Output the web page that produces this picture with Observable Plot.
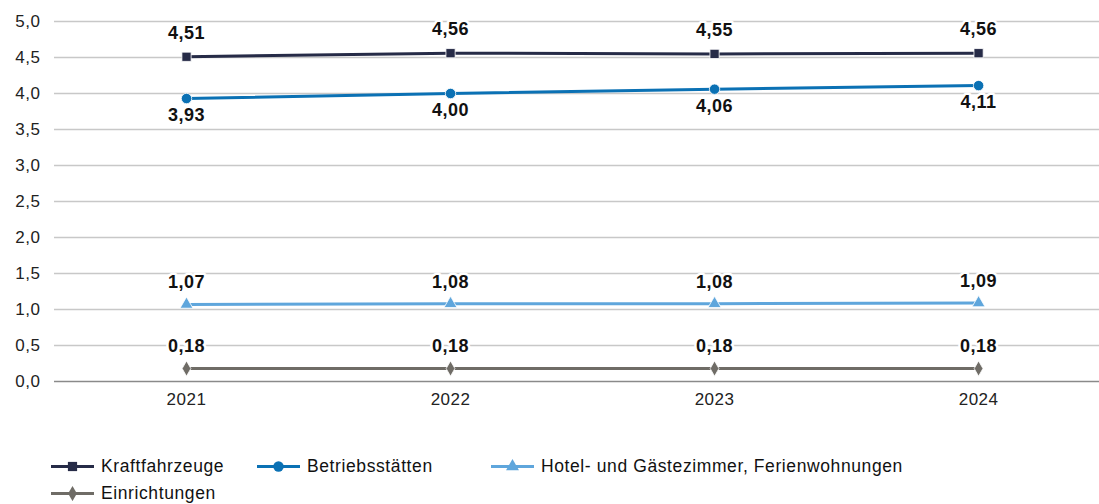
<!DOCTYPE html>
<html><head><meta charset="utf-8">
<script src="https://cdn.jsdelivr.net/npm/d3@7"></script>
<script src="https://cdn.jsdelivr.net/npm/@observablehq/plot@0.6"></script>
<style>
body{margin:0;background:#fff;font-family:"Liberation Sans",Arial,sans-serif;}
#chart svg text{letter-spacing:0.5px;}
#legend{display:flex;flex-wrap:wrap;width:1000px;padding-left:51px;padding-top:10px;row-gap:5px;}
.item{display:flex;align-items:center;font-size:17.5px;letter-spacing:0.6px;color:#111;height:22px;}
.item svg{margin-right:7px;}
</style></head><body>
<div id="chart"></div>
<div id="legend"></div>
<script>
const years = [2021, 2022, 2023, 2024];
const seriesNames = ["Kraftfahrzeuge", "Betriebsstätten", "Hotel- und Gästezimmer, Ferienwohnungen", "Einrichtungen"];
const kraftfahrzeuge = [4.51, 4.56, 4.55, 4.56];
const betriebsstaetten = [3.93, 4.00, 4.06, 4.11];
const hotel = [1.07, 1.08, 1.08, 1.09];
const einrichtungen = [0.18, 0.18, 0.18, 0.18];
const yTicks = [0, 0.5, 1, 1.5, 2, 2.5, 3, 3.5, 4, 4.5, 5];
const colors = ["#262b47", "#0b71b4", "#5fa6dc", "#6f6c66"];
const symbols = ["square", "circle", "triangle", "diamond"];
const symR = [5.2, 5.2, 4.8, 4.6];
const labelDy = [-24, 17, -22, -22];
const legendWidths = [206, 234, 500, 200];

const allValues = [kraftfahrzeuge, betriebsstaetten, hotel, einrichtungen];
const data = [];
allValues.forEach((vals, s) => vals.forEach((v, i) => data.push({series: seriesNames[s], year: years[i], value: v, s})));
const fmt = d3.format(".2f");
const de = v => fmt(v).replace(".", ",");

const marks = [
  Plot.ruleY(yTicks.filter(t => t > 0), {stroke: "#c8c8c8", strokeWidth: 1.3}),
  Plot.ruleY([0], {stroke: "#8a8a8a", strokeWidth: 1.5}),
  Plot.axisY({ticks: yTicks, tickFormat: v => d3.format(".1f")(v).replace(".", ","), tickSize: 0, tickPadding: 14, fontSize: 17, fill: "#222", label: null}),
  Plot.axisX({ticks: years, tickFormat: d => String(d), tickSize: 0, tickPadding: 11, fontSize: 17, fill: "#222", label: null}),
];
seriesNames.forEach((name, s) => {
  const d = data.filter(r => r.s === s);
  marks.push(Plot.line(d, {x: "year", y: "value", stroke: colors[s], strokeWidth: 3}));
  marks.push(Plot.dot(d, {x: "year", y: "value", fill: colors[s], symbol: symbols[s], r: symR[s], stroke: "white", strokeWidth: 0.8}));
  marks.push(Plot.text(d, {x: "year", y: "value", text: r => de(r.value), dy: labelDy[s], fontSize: 18, fontWeight: "bold", fill: "#111", stroke: "white", strokeWidth: 5}));
});

const chart = Plot.plot({
  width: 1099, height: 445,
  marginTop: 21, marginBottom: 64, marginLeft: 54, marginRight: 0,
  style: {fontFamily: '"Liberation Sans", Arial, sans-serif', background: "white", fontSize: "17px"},
  x: {type: "linear", domain: [years[0] - 0.5, years[3] + 0.458]},
  y: {domain: [0, 5]},
  marks
});
document.getElementById("chart").append(chart);

const legend = document.getElementById("legend");
seriesNames.forEach((name, s) => {
  const it = document.createElement("div");
  it.className = "item";
  it.style.width = legendWidths[s] + "px";
  const sym = Plot.dot([0], {x: () => 21, y: () => 8, fill: colors[s], symbol: symbols[s], r: symR[s]});
  const sw = Plot.plot({width: 43, height: 16, margin: 0, x: {type: "identity"}, y: {type: "identity"}, axis: null,
    marks: [Plot.ruleY([8], {x1: 0, x2: 43, stroke: colors[s], strokeWidth: 3}), sym]});
  it.append(sw);
  const t = document.createElement("span"); t.textContent = name; it.append(t);
  legend.append(it);
});
</script></body></html>
